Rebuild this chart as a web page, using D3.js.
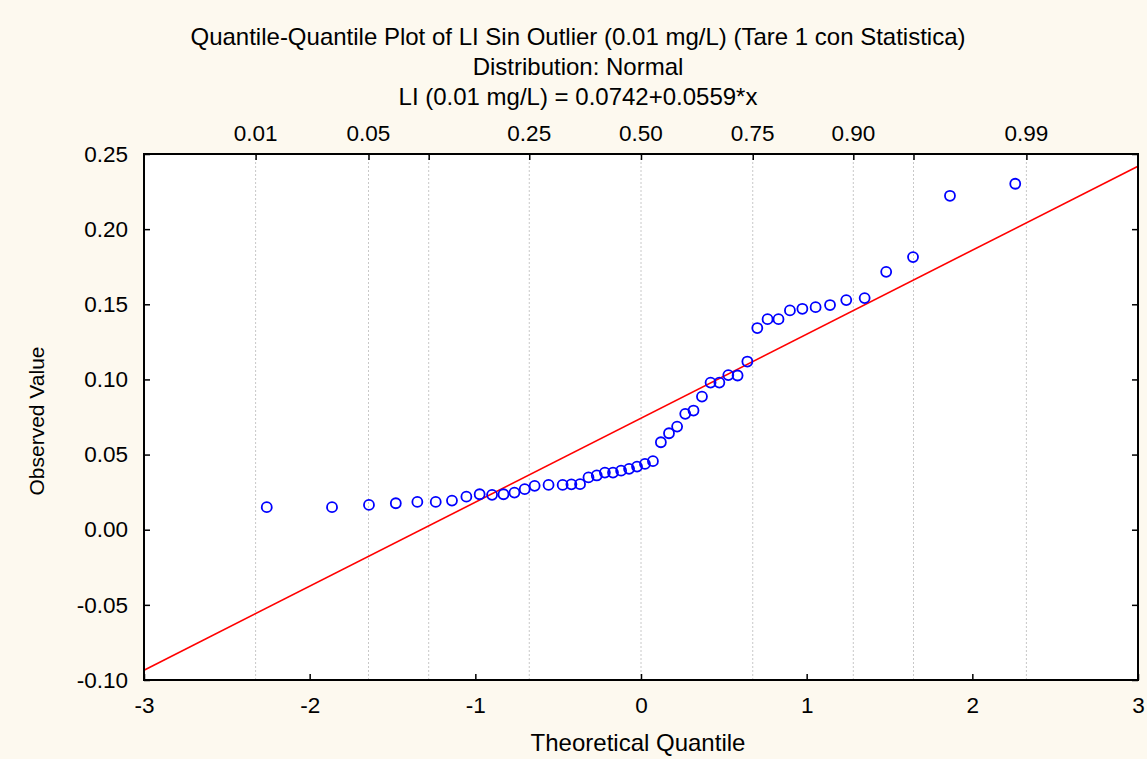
<!DOCTYPE html>
<html>
<head>
<meta charset="utf-8">
<script src="https://cdn.jsdelivr.net/npm/d3@7"></script>
<style>
    body { margin: 0; background: #fdf9ef; }
    text { font-family: "Liberation Sans", Arial, sans-serif; fill: #000; }
</style>
</head>
<body>
<div id="chart"></div>
<script>
let quantiles = [-2.259, -1.865, -1.642, -1.480, -1.350, -1.239, -1.141, -1.054, -0.974, -0.899,
    -0.830, -0.764, -0.702, -0.642, -0.558, -0.473, -0.420, -0.368, -0.317, -0.267,
    -0.218, -0.169, -0.120, -0.072, -0.024, 0.024, 0.072, 0.120, 0.169, 0.218,
    0.267, 0.317, 0.368, 0.420, 0.473, 0.527, 0.583, 0.642, 0.702, 0.764,
    0.830, 0.899, 0.974, 1.054, 1.141, 1.239, 1.350, 1.480, 1.642, 1.865, 2.259];
let observed = [0.0150, 0.0150, 0.0165, 0.0176, 0.0185, 0.0185, 0.0194, 0.0220, 0.0236, 0.0232,
    0.0236, 0.0247, 0.0270, 0.0292, 0.0298, 0.0298, 0.0302, 0.0303, 0.0348, 0.0361,
    0.0380, 0.0380, 0.0393, 0.0405, 0.0420, 0.0438, 0.0456, 0.0582, 0.0642, 0.0686,
    0.0771, 0.0793, 0.0886, 0.0979, 0.0979, 0.1029, 0.1026, 0.1119, 0.1342, 0.1401,
    0.1401, 0.1459, 0.1470, 0.1481, 0.1495, 0.1528, 0.1541, 0.1716, 0.1814, 0.2222, 0.2302];

// fitted line: y = intercept + slope * x
let intercept = 0.0742;
let slope = 0.0559;

let xTicks = [-3, -2, -1, 0, 1, 2, 3];
let yTicks = [-0.10, -0.05, 0.00, 0.05, 0.10, 0.15, 0.20, 0.25];
let probTicks = [0.01, 0.05, 0.10, 0.25, 0.50, 0.75, 0.90, 0.95, 0.99];
let probLabels = [0.01, 0.05, 0.25, 0.50, 0.75, 0.90, 0.99];

let titleLines = [
    "Quantile-Quantile Plot of LI Sin Outlier (0.01 mg/L) (Tare 1 con Statistica)",
    "Distribution: Normal",
    "LI (0.01 mg/L) = 0.0742+0.0559*x"
];

// inverse normal cdf (Acklam) for the probability axis on top
function probit(p) {
    let a = [-39.6968302866538, 220.946098424521, -275.928510446969, 138.357751867269, -30.6647980661472, 2.50662827745924];
    let b = [-54.4760987982241, 161.585836858041, -155.698979859887, 66.8013118877197, -13.2806815528857];
    let c = [-0.00778489400243029, -0.322396458041136, -2.40075827716184, -2.54973253934373, 4.37466414146497, 2.93816398269878];
    let d = [0.00778469570904146, 0.32246712907004, 2.445134137143, 3.75440866190742];
    let pl = 0.02425, q, r;
    if (p < pl) {
        q = Math.sqrt(-2 * Math.log(p));
        return (((((c[0]*q+c[1])*q+c[2])*q+c[3])*q+c[4])*q+c[5]) / ((((d[0]*q+d[1])*q+d[2])*q+d[3])*q+1);
    } else if (p <= 1 - pl) {
        q = p - 0.5; r = q * q;
        return (((((a[0]*r+a[1])*r+a[2])*r+a[3])*r+a[4])*r+a[5])*q / (((((b[0]*r+b[1])*r+b[2])*r+b[3])*r+b[4])*r+1);
    }
    q = Math.sqrt(-2 * Math.log(1 - p));
    return -(((((c[0]*q+c[1])*q+c[2])*q+c[3])*q+c[4])*q+c[5]) / ((((d[0]*q+d[1])*q+d[2])*q+d[3])*q+1);
}

let margin = {top: 154, right: 9, bottom: 79, left: 144};
let totalW = 1147, totalH = 759;
let width = totalW - margin.left - margin.right;
let height = totalH - margin.top - margin.bottom;

let svg = d3.select("#chart").append("svg")
    .attr("width", totalW)
    .attr("height", totalH);

svg.append("rect")
    .attr("width", totalW).attr("height", totalH)
    .attr("fill", "#fdf9ef");

let g = svg.append("g")
    .attr("transform", `translate(${margin.left},${margin.top})`);

let x = d3.scaleLinear().domain([-3, 3]).range([0, width]);
let y = d3.scaleLinear().domain([-0.10, 0.25]).range([height, 0]);

// plot area
g.append("rect")
    .attr("width", width).attr("height", height)
    .attr("fill", "#fff");

// vertical grid at probability ticks
g.selectAll(".grid")
    .data(probTicks)
    .enter()
    .append("line")
    .attr("class", "grid")
    .attr("x1", d => x(probit(d))).attr("x2", d => x(probit(d)))
    .attr("y1", 0).attr("y2", height)
    .attr("stroke", "#c8c8c8")
    .attr("stroke-width", 1)
    .attr("stroke-dasharray", "2,2");

// axes, ticks pointing inward; plain hyphen for minus like the original
let fmtY = d => d3.format(".2f")(d).replace("\u2212", "-");
let fmtX = d => String(d);
let tickFont = "22.5px";
let axisStyle = function(sel) {
    sel.select(".domain").remove();
    sel.selectAll(".tick line").attr("stroke", "#000").attr("stroke-width", 1.5);
    sel.selectAll(".tick text").style("font-size", tickFont).style("font-family", "Liberation Sans, Arial, sans-serif");
};

g.append("g")
    .call(d3.axisLeft(y).tickValues(yTicks).tickFormat(fmtY).tickSizeInner(-6).tickPadding(16))
    .call(axisStyle);

g.append("g")
    .attr("transform", `translate(${width},0)`)
    .call(d3.axisRight(y).tickValues(yTicks).tickFormat("").tickSizeInner(-6))
    .call(axisStyle);

g.append("g")
    .attr("transform", `translate(0,${height})`)
    .call(d3.axisBottom(x).tickValues(xTicks).tickFormat(fmtX).tickSizeInner(-6).tickPadding(17))
    .call(axisStyle);

g.append("g")
    .call(d3.axisTop(x).tickValues(probTicks.map(probit)).tickFormat("").tickSizeInner(-6))
    .call(axisStyle);

g.selectAll(".plabel")
    .data(probLabels)
    .enter()
    .append("text")
    .attr("class", "plabel")
    .attr("x", d => x(probit(d)))
    .attr("y", -13)
    .attr("text-anchor", "middle")
    .style("font-size", tickFont)
    .text(d => d.toFixed(2));

// fitted line
g.append("line")
    .attr("x1", x(-3)).attr("y1", y(intercept + slope * -3))
    .attr("x2", x(3)).attr("y2", y(intercept + slope * 3))
    .attr("stroke", "#ff0000")
    .attr("stroke-width", 1.6);

// points
g.selectAll(".pt")
    .data(quantiles.map((q, i) => ({q: q, v: observed[i]})))
    .enter()
    .append("circle")
    .attr("class", "pt")
    .attr("cx", d => x(d.q))
    .attr("cy", d => y(d.v))
    .attr("r", 5)
    .attr("fill", "none")
    .attr("stroke", "#0000ff")
    .attr("stroke-width", 1.8);

// frame
g.append("rect")
    .attr("width", width).attr("height", height)
    .attr("fill", "none")
    .attr("stroke", "#000")
    .attr("stroke-width", 2);

// titles
svg.selectAll(".title")
    .data(titleLines)
    .enter()
    .append("text")
    .attr("class", "title")
    .attr("x", 578)
    .attr("y", (d, i) => 45 + i * 30)
    .attr("text-anchor", "middle")
    .style("font-size", "24px")
    .text(d => d);

// axis labels
svg.append("text")
    .attr("x", margin.left + width / 2 - 3)
    .attr("y", 751)
    .attr("text-anchor", "middle")
    .style("font-size", "24px")
    .text("Theoretical Quantile");

svg.append("text")
    .attr("transform", `translate(44,${margin.top + height / 2 + 4}) rotate(-90)`)
    .attr("text-anchor", "middle")
    .style("font-size", "21px")
    .text("Observed Value");
</script>
</body>
</html>
